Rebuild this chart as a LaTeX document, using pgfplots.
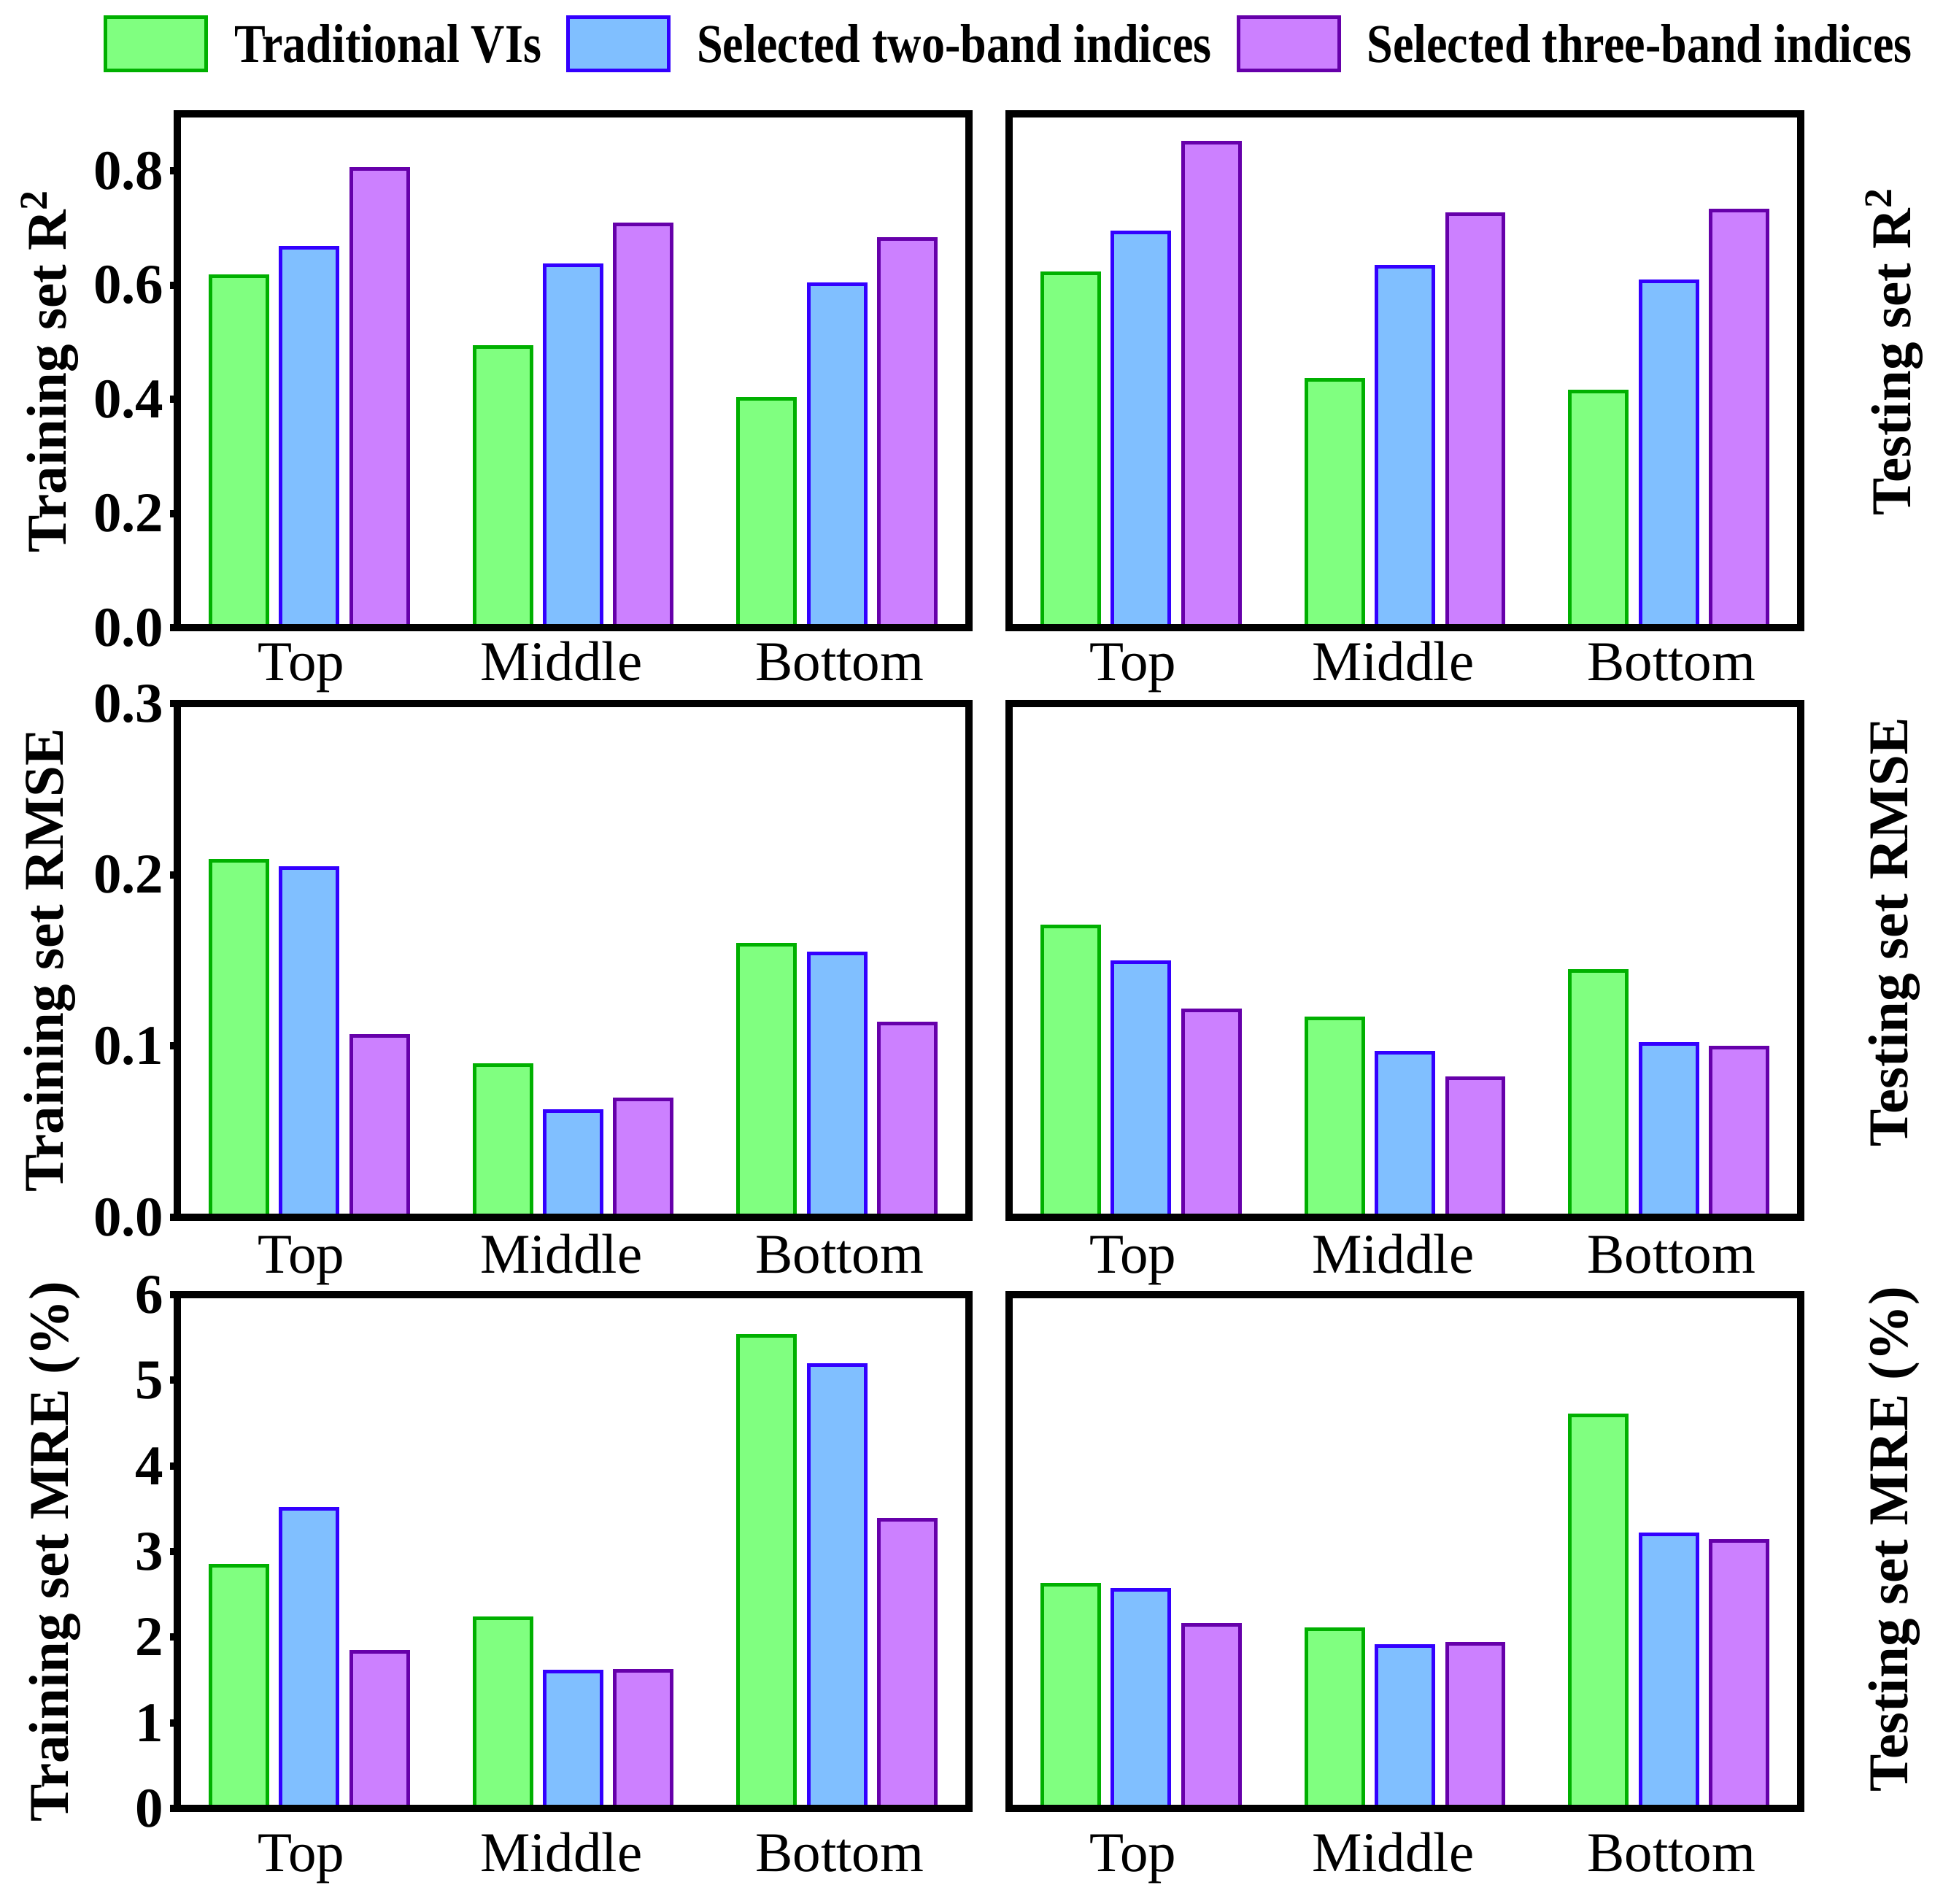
\documentclass[border=0pt]{standalone}
\usepackage{fontspec}
\setmainfont{Liberation Serif}
\newfontfamily\legendfont[FakeStretch=0.855]{Liberation Serif}
\usepackage{pgfplots}
\pgfplotsset{compat=1.18}

\definecolor{gfill}{RGB}{128,255,128}
\definecolor{gedge}{RGB}{0,176,0}
\definecolor{bfill}{RGB}{128,191,255}
\definecolor{bedge}{RGB}{51,0,255}
\definecolor{pfill}{RGB}{204,128,255}
\definecolor{pedge}{RGB}{102,0,170}

\tikzset{
  gbar/.style={fill=gfill, draw=gedge, line width=1pt, bar shift=-0.2667},
  bbar/.style={fill=bfill, draw=bedge, line width=1pt, bar shift=0},
  pbar/.style={fill=pfill, draw=pedge, line width=1pt, bar shift=0.2667},
}

\pgfplotsset{
  panel/.style={
    scale only axis, width=217pt, height=140.8pt,
    xmin=-0.5, xmax=2.5, ymin=0,
    ybar, bar width=0.2155,
    axis line style={line width=2pt},
    axis on top,
    xtick={-0.03,0.955,2.01}, xticklabels={Top,Middle,Bottom},
    x tick style={draw=none},
    xticklabel style={font=\fontsize{15.4}{18}\selectfont, text height=10.5pt, inner sep=0pt},
    y tick style={line width=2pt, black},
    tick align=outside,
    ytick pos=left,
    major tick length=2pt,
    yticklabel style={font=\fontsize{15.4}{18}\selectfont\bfseries, inner sep=0pt, xshift=-1.5pt},
    /pgf/number format/assume math mode=true,
    ylabel style={font=\fontsize{15.4}{18}\selectfont\bfseries, anchor=center},
  },
  leftlab/.style={ylabel style={at={(axis description cs:#1,0.5)}}},
  rightlab/.style={ytick=\empty, ylabel style={at={(axis description cs:1.118,#1)}}},
  xlab/.style={xticklabel style={yshift=#1}},
  onedec/.style={yticklabel style={/pgf/number format/.cd, fixed, fixed zerofill, precision=1, /tikz/.cd}},
}

\begin{document}
\begin{tikzpicture}
\useasboundingbox (0,0) rectangle (532.6pt,521.8pt);

% Row 1 left: Training R2
\begin{axis}[panel, at={(48.6pt,349.8pt)}, anchor=south west,
  ymax=0.9, ytick={0,0.2,0.4,0.6,0.8}, onedec,
  ylabel={Training set R\textsuperscript{2}}, leftlab=-0.161, xlab=-1.9pt,
  legend columns=3,
  legend style={at={(axis description cs:-0.093,1.136)}, anchor=west,
    draw=none, fill=none, inner sep=0pt, outer sep=0pt,
    font=\legendfont\bfseries\fontsize{15}{18}\selectfont,
    /tikz/every odd column/.append style={column sep=7.2pt},
    /tikz/every even column/.append style={column sep=6.8pt},
    nodes={inner sep=0pt}},
  legend image code/.code={\draw[#1] (0pt,-6.8pt) rectangle (27.6pt,7.8pt);},
]
\addplot[gbar] coordinates {(0,0.615) (1,0.491) (2,0.401)};
\addplot[bbar] coordinates {(0,0.665) (1,0.635) (2,0.601)};
\addplot[pbar] coordinates {(0,0.804) (1,0.706) (2,0.681)};
\legend{Traditional VIs, Selected two-band indices, Selected three-band indices}
\end{axis}

% Row 1 right: Testing R2
\begin{axis}[panel, at={(276.6pt,349.8pt)}, anchor=south west,
  ymax=0.9, rightlab=0.538,
  ylabel={Testing set R\textsuperscript{2}}, xlab=-1.9pt]
\addplot[gbar] coordinates {(0,0.621) (1,0.434) (2,0.413)};
\addplot[bbar] coordinates {(0,0.692) (1,0.632) (2,0.606)};
\addplot[pbar] coordinates {(0,0.850) (1,0.724) (2,0.730)};
\end{axis}

% Row 2 left: Training RMSE
\begin{axis}[panel, at={(48.6pt,188.2pt)}, anchor=south west,
  ymax=0.3, ytick={0,0.1,0.2,0.3}, onedec,
  ylabel={Training set RMSE}, leftlab=-0.161, xlab=-2.7pt]
\addplot[gbar] coordinates {(0,0.208) (1,0.089) (2,0.159)};
\addplot[bbar] coordinates {(0,0.204) (1,0.062) (2,0.154)};
\addplot[pbar] coordinates {(0,0.106) (1,0.069) (2,0.113)};
\end{axis}

% Row 2 right: Testing RMSE
\begin{axis}[panel, at={(276.6pt,188.2pt)}, anchor=south west,
  ymax=0.3, rightlab=0.555,
  ylabel={Testing set RMSE}, xlab=-2.7pt]
\addplot[gbar] coordinates {(0,0.170) (1,0.116) (2,0.144)};
\addplot[bbar] coordinates {(0,0.149) (1,0.096) (2,0.101)};
\addplot[pbar] coordinates {(0,0.121) (1,0.081) (2,0.099)};
\end{axis}

% Row 3 left: Training MRE
\begin{axis}[panel, at={(48.6pt,26.2pt)}, anchor=south west,
  ymax=6, ytick={0,1,2,3,4,5,6},
  ylabel={Training set MRE (\%)}, leftlab=-0.155, xlab=-4.5pt]
\addplot[gbar] coordinates {(0,2.83) (1,2.22) (2,5.52)};
\addplot[bbar] coordinates {(0,3.50) (1,1.60) (2,5.18)};
\addplot[pbar] coordinates {(0,1.83) (1,1.61) (2,3.37)};
\end{axis}

% Row 3 right: Testing MRE
\begin{axis}[panel, at={(276.6pt,26.2pt)}, anchor=south west,
  ymax=6, rightlab=0.524,
  ylabel={Testing set MRE (\%)}, xlab=-4.5pt]
\addplot[gbar] coordinates {(0,2.61) (1,2.09) (2,4.59)};
\addplot[bbar] coordinates {(0,2.55) (1,1.90) (2,3.20)};
\addplot[pbar] coordinates {(0,2.14) (1,1.92) (2,3.12)};
\end{axis}
\end{tikzpicture}
\end{document}
